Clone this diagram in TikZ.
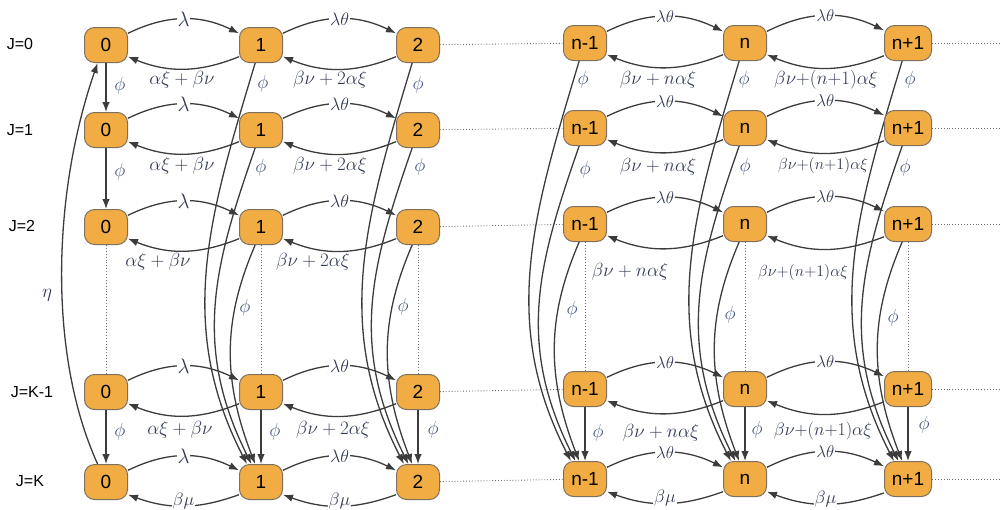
\RequirePackage{fix-cm}
\documentclass[tikz,border=0pt]{standalone}
\usepackage[no-math]{fontspec}
\setmainfont{Liberation Sans}
\usetikzlibrary{arrows.meta}
\definecolor{nodefill}{RGB}{241,173,68}
\definecolor{nodeline}{RGB}{125,112,95}
\definecolor{edgecol}{RGB}{60,60,60}
\definecolor{labcol}{RGB}{50,58,85}
\definecolor{phicol}{RGB}{70,88,128}
\definecolor{dotcol}{RGB}{110,110,110}
\pgfdeclarelayer{edges}
\pgfsetlayers{edges,main}
\tikzset{
  state/.style={draw=nodeline, fill=nodefill, rounded corners=10pt, minimum width=43pt,
    minimum height=35pt, inner sep=2pt, line width=1pt, font=\fontsize{19}{21}\selectfont},
  widestate/.style={state, minimum width=47pt},
  arr/.style={draw=edgecol, line width=1.3pt, -{Latex[length=10pt,width=7.5pt]}},
  dots/.style={draw=dotcol, line width=0.9pt, dotted},
  lab/.style={text=labcol, inner sep=1pt, font=\fontsize{19}{21}\selectfont},
  midlab/.style={lab, font=\fontsize{18}{20}\selectfont},
  smalllab/.style={lab, font=\fontsize{16}{18}\selectfont},
  philab/.style={text=phicol, inner sep=1pt, font=\fontsize{19}{21}\selectfont},
  lamlab/.style={text=labcol, fill=white, inner sep=1pt, font=\fontsize{21}{23}\selectfont},
  ltlab/.style={text=labcol, fill=white, inner sep=1pt, font=\fontsize{18}{20}\selectfont},
  rtlab/.style={text=labcol, fill=white, inner sep=1pt, font=\fontsize{17}{19}\selectfont},
  mulab/.style={ltlab, yshift=5pt},
  rowlab/.style={inner sep=0pt, font=\fontsize{16}{18}\selectfont}
}
\begin{document}
\begin{tikzpicture}[x=1pt,y=1pt]
\useasboundingbox (0,0) rectangle (1001,-509);

% row labels
\node[rowlab] (j0) at (20,-44) {J=0};
\node[rowlab] (j1) at (20,-130) {J=1};
\node[rowlab] (j2) at (22,-226) {J=2};
\node[rowlab] (j3) at (32,-392) {J=K-1};
\node[rowlab] (j4) at (30,-481) {J=K};

% state nodes, left block
\foreach \r/\y in {0/45,1/130,2/227,3/392,4/482} {
  \node[state] (a\r) at (106,-\y) {0};
  \node[state] (b\r) at (261,-\y) {1};
  \node[state] (c\r) at (418,-\y) {2};
}
% state nodes, right block
\foreach \r/\y in {0/43,1/128,2/224,3/389,4/479} {
  \node[state] (d\r) at (585,-\y) {n-1};
  \node[state] (e\r) at (745,-\y) {n};
  \node[widestate] (f\r) at (908,-\y) {n+1};
  \coordinate (g\r) at (1001,-\y);
}

\begin{pgfonlayer}{edges}
% horizontal transitions
\foreach \r in {0,1,2,3,4} {
  \draw[arr] (a\r.28) to[bend left=26] node[lamlab] {$\lambda$} (b\r.152);
  \draw[arr] (b\r.28) to[bend left=26] node[ltlab] {$\lambda\theta$} (c\r.152);
  \draw[arr] (d\r.28) to[bend left=26] node[rtlab] {$\lambda\theta$} (e\r.152);
  \draw[arr] (e\r.28) to[bend left=26] node[rtlab] {$\lambda\theta$} (f\r.152);
  \draw[dots] (c\r) -- (d\r);
  \draw[dots] (f\r) -- (g\r);
}
\foreach \r in {0,1,2,3} {
  \draw[arr] (b\r.208) to[bend left=22] (a\r.332);
  \draw[arr] (c\r.208) to[bend left=22] (b\r.332);
  \draw[arr] (e\r.208) to[bend left=22] (d\r.332);
  \draw[arr] (f\r.208) to[bend left=22] (e\r.332);
}
\draw[arr] (b4.210) to[bend left=20] node[mulab] {$\beta\mu$} (a4.330);
\draw[arr] (c4.210) to[bend left=20] node[mulab] {$\beta\mu$} (b4.330);
\draw[arr] (e4.210) to[bend left=20] node[mulab] {$\beta\mu$} (d4.330);
\draw[arr] (f4.210) to[bend left=20] node[mulab] {$\beta\mu$} (e4.330);

% column 0 vertical transitions
\draw[arr] (a0) -- (a1);
\draw[arr] (a1) -- (a2);
\draw[dots] (a2) -- (a3);
\draw[arr] (a3) -- (a4);
\draw[arr] (a4.115) .. controls +(-50,110) and +(-45,-130) .. (a0.245);

% other columns
\foreach \col in {b,c,d,e,f} {
  \draw[arr] (\col0.252) .. controls +(-45,-150) and +(-72,140) .. (\col4.128);
  \draw[arr] (\col1.252) .. controls +(-40,-115) and +(-60,120) .. (\col4.118);
  \draw[arr] (\col2.252) .. controls +(-30,-70) and +(-35,90) .. (\col4.108);
  \draw[dots] (\col2) -- (\col3);
  \draw[arr] (\col3) -- (\col4);
}
\end{pgfonlayer}

% eta
\node[lab] (eta) at (47,-295) {$\eta$};

% lower labels left block
\node[lab] (l0a) at (182,-80) {$\alpha\xi + \beta\nu$};
\node[lab] (l0b) at (330,-80) {$\beta\nu + 2\alpha\xi$};
\node[lab] (l1a) at (182,-166) {$\alpha\xi + \beta\nu$};
\node[lab] (l1b) at (330,-166) {$\beta\nu + 2\alpha\xi$};
\node[lab] (l2a) at (158,-262) {$\alpha\xi + \beta\nu$};
\node[lab] (l2b) at (313,-262) {$\beta\nu + 2\alpha\xi$};
\node[lab] (l3a) at (180,-430) {$\alpha\xi + \beta\nu$};
\node[lab] (l3b) at (333,-430) {$\beta\nu + 2\alpha\xi$};
% lower labels right block
\node[lab] (r0a) at (658,-80) {$\beta\nu + n\alpha\xi$};
\node[lab] (r0b) at (826,-80) {$\beta\nu{+}(n{+}1)\alpha\xi$};
\node[lab] (r1a) at (658,-167) {$\beta\nu + n\alpha\xi$};
\node[smalllab] (r1b) at (823,-165) {$\beta\nu{+}(n{+}1)\alpha\xi$};
\node[lab] (r2a) at (630,-272) {$\beta\nu + n\alpha\xi$};
\node[smalllab] (r2b) at (803,-272) {$\beta\nu{+}(n{+}1)\alpha\xi$};
\node[lab] (r3a) at (661,-433) {$\beta\nu + n\alpha\xi$};
\node[midlab] (r3b) at (823,-431) {$\beta\nu{+}(n{+}1)\alpha\xi$};

% phi labels
\foreach \nm/\x/\y in {pa0/120/86, pa1/120/172, pa3/120/432,
  pb0/263/84, pb1/261/168, pb2/245/308, pb3/275/432,
  pc0/418/85, pc1/420/167, pc2/403/307, pc3/433/430,
  pd0/583/80, pd1/585/170, pd2/572/310, pd3/598/433,
  pe0/744/80, pe1/745/167, pe2/730/315, pe3/757/430,
  pf0/910/80, pf1/905/168, pf2/893/318, pf3/924/425} {
  \node[philab] (\nm) at (\x,-\y) {$\phi$};
}
\end{tikzpicture}
\end{document}
